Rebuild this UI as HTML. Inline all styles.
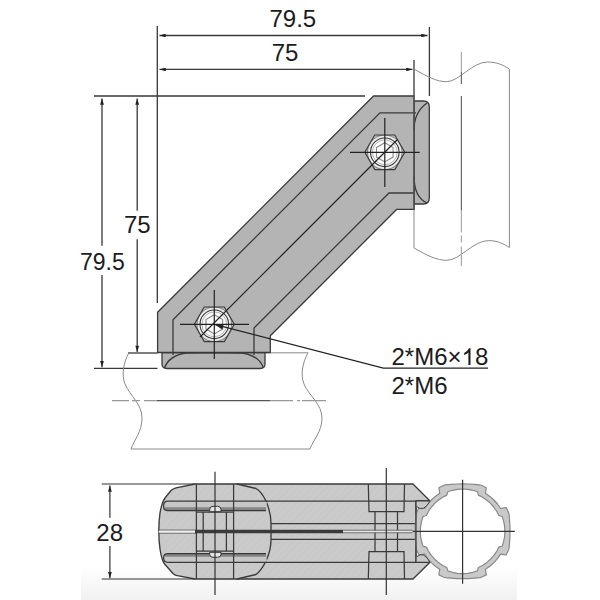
<!DOCTYPE html>
<html><head><meta charset="utf-8">
<style>
html,body{margin:0;padding:0;background:#fff;width:600px;height:600px;overflow:hidden}
svg{display:block}
text{font-family:"Liberation Sans",sans-serif;fill:#1c1c1c}
</style></head><body>
<svg width="600" height="600" viewBox="0 0 600 600">
<defs>
<marker id="ar" viewBox="0 0 10 6" refX="10" refY="3" markerWidth="8.5" markerHeight="3.8" markerUnits="userSpaceOnUse" orient="auto-start-reverse">
<path d="M0,0 L10,3 L0,6 z" fill="#222"/>
</marker>
<pattern id="hatch" width="5" height="5" patternUnits="userSpaceOnUse" patternTransform="rotate(45)">
<rect width="5" height="5" fill="#cacaca"/>
<line x1="0" y1="0" x2="0" y2="5" stroke="#c3c3c3" stroke-width="1"/>
</pattern>
<clipPath id="hexclip"><polygon points="-20,0 -10,-17.3 10,-17.3 20,0 10,17.3 -10,17.3"/></clipPath>
<linearGradient id="tint" x1="0" y1="0" x2="0" y2="1">
<stop offset="0" stop-color="#fff"/><stop offset="1" stop-color="#f1f1f1"/>
</linearGradient>
</defs>

<rect x="81" y="566" width="436" height="34" fill="url(#tint)"/>

<!-- ===== TOP / LEFT DIMENSIONS ===== -->
<g stroke="#383838" stroke-width="1.3" fill="none">
<line x1="157.3" y1="26" x2="157.3" y2="303"/>
<line x1="429.4" y1="27" x2="429.4" y2="96"/>
<line x1="414" y1="60" x2="414" y2="96"/>
<line x1="159.5" y1="35.5" x2="427.5" y2="35.5" marker-start="url(#ar)" marker-end="url(#ar)"/>
<line x1="159.5" y1="69.4" x2="412.5" y2="69.4" marker-start="url(#ar)" marker-end="url(#ar)"/>
<line x1="94" y1="96" x2="365" y2="96"/>
<line x1="102" y1="98.4" x2="102" y2="245.8" marker-start="url(#ar)"/>
<line x1="102" y1="275" x2="102" y2="367.3" marker-end="url(#ar)"/>
<line x1="137.2" y1="98.4" x2="137.2" y2="210.8" marker-start="url(#ar)"/>
<line x1="137.2" y1="239.2" x2="137.2" y2="352" marker-end="url(#ar)"/>
<line x1="94" y1="368.3" x2="157.5" y2="368.3"/>
<line x1="128" y1="353" x2="157.5" y2="353"/>
</g>
<text x="269.5" y="27" font-size="24">79.5</text>
<text x="271.7" y="60.7" font-size="24">75</text>
<text x="124" y="233.3" font-size="24">75</text>
<text x="80" y="269.5" font-size="23">79.5</text>

<!-- ===== RIGHT VERTICAL PIPE ===== -->
<g stroke="#8a8a8a" stroke-width="1" fill="none">
<path d="M414,69 C428,77 437,81.7 446.5,81.7 C459,81.7 472,62 487.5,62 C497,62 503,65 509.4,69"/>
<path d="M414,248 C428,256 437,260.3 447,260.3 C460,260.3 473,240.6 488.5,240.6 C498,240.6 504,244 509.4,247.5"/>
<line x1="509.4" y1="69" x2="509.4" y2="247.5"/>
<line x1="414" y1="204" x2="414" y2="248"/>
</g>
<g stroke="#555" stroke-width="1.2" fill="none">
<path d="M461.4,52 V72" stroke="#aaa"/>
<path d="M461.4,72 V84 M461.4,96 V210" stroke="#6a6a6a"/>
<path d="M461.4,210 V232.5 M461.4,235.5 V242.5 M461.4,246.5 V266" stroke="#aaa"/>
</g>

<!-- ===== LOWER HORIZONTAL PIPE ===== -->
<g stroke="#8a8a8a" stroke-width="1" fill="none">
<path d="M128.8,352.8 C124,362 121,374 125,384 C130,396 142,404 142,418 C142,432 134,440 131,449"/>
<path d="M308,352.8 C303,362 300,374 304,384 C309,396 322,404 322,418 C322,432 313,440 310,449"/>
<line x1="131" y1="449" x2="310" y2="449"/>
<line x1="265" y1="352.8" x2="308" y2="352.8"/>
</g>
<g stroke="#999" stroke-width="1.2" fill="none">
<path d="M112,400.6 H129 M132,400.6 H140 M144,400.6 H157 M270,400.6 H293 M297,400.6 H300 M302,400.6 H326"/>
</g>
<line x1="157" y1="400.6" x2="270" y2="400.6" stroke="#555" stroke-width="1.4"/>

<!-- ===== BRACKET ===== -->
<g stroke="#3a3a3a" stroke-width="1.3" stroke-linejoin="round">
<path d="M414,101 H423.5 Q429.3,101 429.3,107 V198 Q429.3,204 423.5,204 H414 Z" fill="#b4b4b4"/>
<path d="M162,352.5 H265 V364 Q265,368.5 260,368.5 H167 Q162,368.5 162,364 Z" fill="#b4b4b4"/>
<path d="M373.5,96 H414 V209.3 H396.8 L270.3,335.8 V352.5 H157.6 V312.2 Z" fill="#b4b4b4"/>
</g>
<g stroke="#3a3a3a" stroke-width="1.3" fill="none">
<path d="M416,112.8 H380 L173,319.8 V355"/>
<path d="M414,193 H389 L254,328 V355"/>
<path d="M427,103 C420,108 414,116 414,130 M414,176 C414,190 418,199 427,203"/>
<path d="M164.5,368 C167,361 173,355 186,353 L214,352.6 L242,353 C255,355 261,361 263.5,368"/>
<line x1="414" y1="96" x2="414" y2="210" stroke="#555" stroke-width="1.1"/>
</g>


<g transform="translate(384.8,152.3)">
<polygon points="-20,0 -10,-17.3 10,-17.3 20,0 10,17.3 -10,17.3" fill="#c2c2c2" stroke="none"/>
<circle r="17.3" fill="#e9e9e9" stroke="#666" stroke-width="0.8" clip-path="url(#hexclip)"/>
<polygon points="-20,0 -10,-17.3 10,-17.3 20,0 10,17.3 -10,17.3" fill="none" stroke="#3a3a3a" stroke-width="1.15" stroke-linejoin="round"/>
<circle r="14.3" fill="#fbfbfb" stroke="#3a3a3a" stroke-width="1.1"/>
<circle r="12.4" fill="none" stroke="#a0a0a0" stroke-width="0.8"/>
<polygon points="0,-9.6 8.3,-4.8 8.3,4.8 0,9.6 -8.3,4.8 -8.3,-4.8" fill="none" stroke="#8a8a8a" stroke-width="1.1"/>
</g>

<g transform="translate(214.3,324.3)">
<polygon points="-20,0 -10,-17.3 10,-17.3 20,0 10,17.3 -10,17.3" fill="#c2c2c2" stroke="none"/>
<circle r="17.3" fill="#e9e9e9" stroke="#666" stroke-width="0.8" clip-path="url(#hexclip)"/>
<polygon points="-20,0 -10,-17.3 10,-17.3 20,0 10,17.3 -10,17.3" fill="none" stroke="#3a3a3a" stroke-width="1.15" stroke-linejoin="round"/>
<circle r="14.3" fill="#fbfbfb" stroke="#3a3a3a" stroke-width="1.1"/>
<circle r="12.4" fill="none" stroke="#a0a0a0" stroke-width="0.8"/>
<polygon points="0,-9.6 8.3,-4.8 8.3,4.8 0,9.6 -8.3,4.8 -8.3,-4.8" fill="none" stroke="#8a8a8a" stroke-width="1.1"/>
</g>
<g stroke="#222" stroke-width="1.2" fill="none">
<path d="M350,152.3 H419.7 M384.8,118 V187"/>
<path d="M180,324.3 H249 M214.3,290 V359"/>
<path d="M200,337 L397,140"/>
<path d="M214.3,324.3 L383.3,368.2 H488"/>
</g>
<polygon points="214.3,324.3 223.5,325.2 222.3,329.4" fill="#222"/>

<text x="391.5" y="365" font-size="24">2*M6×</text>
<path d="M468.4,365 V352.4 C467.3,353.5 465.8,354.4 464.2,354.9 V352.9 C466.3,352.1 468,350.4 468.9,348.3 H470.5 V365 Z" fill="#1c1c1c"/>
<text x="474.9" y="365" font-size="24">8</text>
<text x="391.5" y="394" font-size="24">2*M6</text>

<!-- ===== BOTTOM VIEW ===== -->
<g stroke="#333" stroke-width="1.2" fill="none">
<line x1="101.7" y1="484" x2="195" y2="484"/>
<line x1="101.7" y1="579" x2="195" y2="579"/>
<line x1="109.9" y1="485.5" x2="109.9" y2="517.8" marker-start="url(#ar)"/>
<line x1="109.9" y1="546" x2="109.9" y2="578.3" marker-end="url(#ar)"/>
</g>
<text x="96.3" y="540.7" font-size="24">28</text>

<!-- body -->
<path d="M237,484 H413 L430,501 H416 V562.3 H430 L413,579 H237 Z" fill="url(#hatch)" stroke="#3a3a3a" stroke-width="1.3" stroke-linejoin="round"/>
<!-- left clamp -->
<path d="M195,484 L176,487.8 Q173,488.6 171,490.5 L165,498 Q163.3,500.5 162.5,503 Q160.8,508 160,513 Q158.8,521 158.8,531 Q158.8,541 160,549 Q160.8,555 162.5,560 Q163.3,562.5 165,564.5 L173,573.5 Q174.5,575 176,575.3 L195,579 H237 L256,574.5 Q261,571 266,561 Q271,550 271,540 V523 Q271,513 266,501 Q261,491 256,488.5 L237,484 Z" fill="url(#hatch)" stroke="#3a3a3a" stroke-width="1.35" stroke-linejoin="round"/>
<!-- slots -->
<path d="M267,501 H168 Q163.6,501 163.6,505.5 V506.5 Q163.6,510.7 168,510.7 H266" fill="#c6c6c6" stroke="none"/>
<path d="M164.5,507.3 H266 V510.7 H168 Q165,510.7 164.5,507.3 Z" fill="#858585"/>
<path d="M267,562.3 H168 Q163.6,562.3 163.6,558 V557.5 Q163.6,553.7 168,553.7 H266" fill="#c6c6c6" stroke="none"/>
<path d="M164.5,556.8 H266 V553.7 H168 Q165,553.7 164.5,556.8 Z" fill="#858585"/>
<g stroke="#3a3a3a" stroke-width="1.25" fill="none">
<path d="M267,501 H168 Q163.6,501 163.6,505.5 V506.5 Q163.6,510.7 168,510.7 H266"/>
<path d="M267,562.3 H168 Q163.6,562.3 163.6,558 V557.5 Q163.6,553.7 168,553.7 H266"/>
<path d="M266,501 H430 M266,562.3 H430"/>
<path d="M196.4,484 V579 M233.6,484 V579"/>
<path d="M203.2,512.2 V551.2 M226.4,512.2 V551.2 M196.4,512.2 H233.6 M196.4,551.2 H233.6"/>
<path d="M271,523.6 H415 M271,539.3 H415"/>
<path d="M368.3,484 L369,511.7 H404 L404.5,484 M375,511.7 V551.7 M397.5,511.7 V551.7 M368.3,579 L369,551.7 H404 L404.5,579"/>
</g>
<path d="M209.7,511.7 V509.5 Q209.7,506.3 213,506.3 H217.7 Q221,506.3 221,509.5 V511.7 Z" fill="#e4e4e4" stroke="#333" stroke-width="1"/>
<path d="M209.7,552.3 V554.5 Q209.7,557.3 213,557.3 H217.7 Q221,557.3 221,554.5 V552.3 Z" fill="#e4e4e4" stroke="#333" stroke-width="1"/>
<path d="M158.8,531.6 H196" stroke="#eee" stroke-width="2.2"/>
<path d="M158.8,530 H196 M158.8,533.3 H196" stroke="#555" stroke-width="0.7"/>
<line x1="195" y1="531.5" x2="343" y2="531.5" stroke="#3a3a3a" stroke-width="3.4"/>
<path d="M343,531.5 H412" stroke="#e2e2e2" stroke-width="2"/>
<path d="M343,530.2 H412 L413,531.5 L412,532.8 H343" stroke="#6a6a6a" stroke-width="0.9" fill="none"/>

<!-- pipe section -->
<g transform="translate(462.6,531.3)">
<path d="M47.4,-0.0 L47.3,-5.8 L46.9,-11.7 L46.4,-17.3 L46.3,-17.8 L46.0,-18.6 L45.5,-19.8 L43.6,-23.7 L41.3,-23.4 L38.0,-22.8 L34.9,-27.3 L31.3,-31.3 L27.3,-34.9 L22.8,-38.0 L23.4,-41.3 L23.7,-43.6 L19.8,-45.5 L18.6,-46.0 L17.8,-46.3 L17.3,-46.4 L11.7,-46.9 L5.8,-47.3 L0.0,-47.4 L-5.8,-47.3 L-11.7,-46.9 L-17.3,-46.4 L-17.8,-46.3 L-18.6,-46.0 L-19.8,-45.5 L-23.7,-43.6 L-23.4,-41.3 L-22.8,-38.0 L-27.3,-34.9 L-31.3,-31.3 L-34.9,-27.3 L-38.0,-22.8 L-41.3,-23.4 L-43.6,-23.7 L-45.5,-19.8 L-46.0,-18.6 L-46.3,-17.8 L-46.4,-17.3 L-46.9,-11.7 L-47.3,-5.8 L-47.4,-0.0 L-47.3,5.8 L-46.9,11.7 L-46.4,17.3 L-46.3,17.8 L-46.0,18.6 L-45.5,19.8 L-43.6,23.7 L-41.3,23.4 L-38.0,22.8 L-34.9,27.3 L-31.3,31.3 L-27.3,34.9 L-22.8,38.0 L-23.4,41.3 L-23.7,43.6 L-19.8,45.5 L-18.6,46.0 L-17.8,46.3 L-17.3,46.4 L-11.7,46.9 L-5.8,47.3 L-0.0,47.4 L5.8,47.3 L11.7,46.9 L17.3,46.4 L17.8,46.3 L18.6,46.0 L19.8,45.5 L23.7,43.6 L23.4,41.3 L22.8,38.0 L27.3,34.9 L31.3,31.3 L34.9,27.3 L38.0,22.8 L41.3,23.4 L43.6,23.7 L45.5,19.8 L46.0,18.6 L46.3,17.8 L46.4,17.3 L46.9,11.7 L47.3,5.8 Z M42.3,-0.0 L42.0,-5.2 L41.0,-10.2 L39.6,-14.8 L39.1,-15.0 L37.9,-15.3 L36.2,-15.8 L34.7,-18.8 L34.4,-19.5 L33.9,-20.3 L31.1,-24.3 L27.9,-27.9 L24.3,-31.1 L20.3,-33.9 L19.5,-34.4 L18.8,-34.7 L15.8,-36.2 L15.3,-37.9 L15.0,-39.1 L14.8,-39.6 L10.2,-41.0 L5.2,-42.0 L0.0,-42.3 L-5.2,-42.0 L-10.2,-41.0 L-14.8,-39.6 L-15.0,-39.1 L-15.3,-37.9 L-15.8,-36.2 L-18.8,-34.7 L-19.5,-34.4 L-20.3,-33.9 L-24.3,-31.1 L-27.9,-27.9 L-31.1,-24.3 L-33.9,-20.3 L-34.4,-19.5 L-34.7,-18.8 L-36.2,-15.8 L-37.9,-15.3 L-39.1,-15.0 L-39.6,-14.8 L-41.0,-10.2 L-42.0,-5.2 L-42.3,-0.0 L-42.0,5.2 L-41.0,10.2 L-39.6,14.8 L-39.1,15.0 L-37.9,15.3 L-36.2,15.8 L-34.7,18.8 L-34.4,19.5 L-33.9,20.3 L-31.1,24.3 L-27.9,27.9 L-24.3,31.1 L-20.3,33.9 L-19.5,34.4 L-18.8,34.7 L-15.8,36.2 L-15.3,37.9 L-15.0,39.1 L-14.8,39.6 L-10.2,41.0 L-5.2,42.0 L-0.0,42.3 L5.2,42.0 L10.2,41.0 L14.8,39.6 L15.0,39.1 L15.3,37.9 L15.8,36.2 L18.8,34.7 L19.5,34.4 L20.3,33.9 L24.3,31.1 L27.9,27.9 L31.1,24.3 L33.9,20.3 L34.4,19.5 L34.7,18.8 L36.2,15.8 L37.9,15.3 L39.1,15.0 L39.6,14.8 L41.0,10.2 L42.0,5.2 Z" fill="#c9c9c9" fill-rule="evenodd" stroke="#888" stroke-width="1.2" stroke-linejoin="round"/>
</g>
<path d="M416,501 H430 Q427,506.5 423.5,508.3 Q420,509.5 416,506.5 Z M416,562.3 H430 Q427,556.8 423.5,555 Q420,553.8 416,556.8 Z" fill="#c9c9c9" stroke="none"/>
<path d="M430,501 H416 V562.3 H430" fill="none" stroke="#3a3a3a" stroke-width="1.2"/>
<path d="M430,501 Q427,506.5 423.5,508.3 Q420,509.5 416.5,506.5 M430,562.3 Q427,556.8 423.5,555 Q420,553.8 416.5,556.8" fill="none" stroke="#444" stroke-width="1"/>
<g stroke="#333" stroke-width="1.2" fill="none">
<line x1="215" y1="471.7" x2="215" y2="595"/>
<line x1="386.3" y1="468" x2="386.3" y2="595"/>
<line x1="462.6" y1="479.7" x2="462.6" y2="583.8"/>
<line x1="413" y1="531.3" x2="514.8" y2="531.3"/>
</g>
</svg>
</body></html>
